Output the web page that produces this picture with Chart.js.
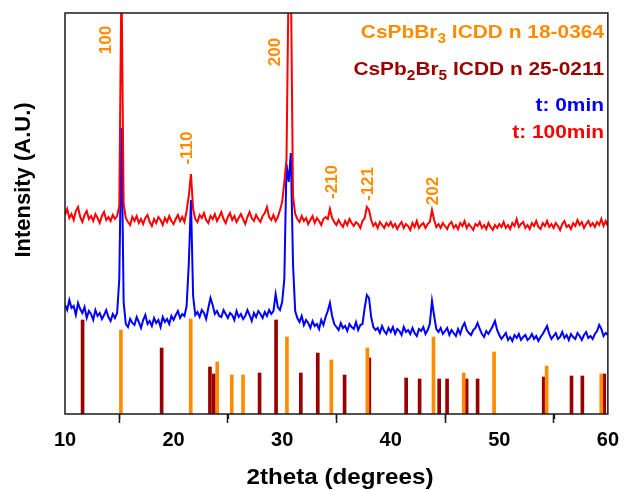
<!DOCTYPE html>
<html>
<head>
<meta charset="utf-8">
<script src="https://cdn.jsdelivr.net/npm/chart.js@4.4.1/dist/chart.umd.min.js"></script>
<style>
  html, body { margin: 0; padding: 0; background: #fff; }
</style>
</head>
<body>
<canvas id="xrd" width="624" height="490"></canvas>
<script>
// 2theta grid of the scans (degrees)
const gridStart = 10;
const gridStep = 0.2;

// t: 0min scan (blue)
const blue0min = [
  109,104,114,106,108,99,111,105,101,107,96,103,100,94,104,98,101,95,99,104,97,93,100,96,101,
  135,286,112,90,87,95,91,89,97,92,86,94,99,90,93,88,96,91,94,87,97,92,95,90,98,
  94,99,103,96,100,98,108,150,214,118,99,102,97,104,101,95,106,116,109,100,103,98,97,104,100,
  96,101,99,94,103,97,100,95,98,104,99,93,101,97,103,100,96,102,98,104,100,103,120,107,104,
  112,135,250,232,261,150,103,96,92,98,89,94,91,86,93,88,90,85,94,89,97,103,111,98,90,
  87,84,91,86,88,83,90,87,85,92,84,89,90,106,119,116,97,87,84,86,81,88,83,80,86,
  82,87,80,85,83,79,87,82,84,80,86,81,78,85,83,87,80,84,90,113,98,85,82,86,80,
  83,86,79,84,81,78,85,80,87,91,84,81,79,84,86,91,85,80,77,83,80,84,88,93,84,
  79,75,78,81,74,77,73,79,76,80,74,77,79,74,76,80,75,78,73,77,80,84,88,80,75,
  78,81,75,77,82,76,79,74,80,77,75,81,78,74,79,82,76,78,75,80,83,89,85,78,81,
  79
];

// t: 100min scan (red)
const red100min = [
  199,205,196,200,194,203,207,197,192,199,203,195,198,193,200,196,191,198,202,194,197,193,199,195,198,
  208,440,210,196,192,189,197,193,198,191,195,190,196,199,192,188,195,191,197,194,189,196,192,198,193,
  190,195,199,193,197,192,203,218,240,205,195,192,199,196,201,194,191,198,195,200,193,197,202,195,191,
  197,201,194,198,192,196,200,195,190,197,202,196,193,199,195,192,198,201,207,197,194,199,193,197,204,
  212,232,254,440,440,218,200,195,192,198,193,196,190,194,198,191,196,193,189,195,197,195,205,196,192,
  189,194,190,187,193,189,195,191,188,192,190,186,193,196,207,204,194,188,191,186,192,189,186,191,188,
  192,187,190,185,189,192,186,190,188,184,191,187,193,186,189,191,186,190,192,204,194,187,190,186,191,
  188,185,190,192,186,189,185,191,188,193,186,190,187,184,190,188,192,186,189,185,191,187,184,189,186,
  190,187,192,186,189,185,191,188,195,187,190,192,186,189,185,191,188,193,187,185,191,188,193,187,190,
  186,191,188,184,190,193,187,189,185,191,188,194,189,192,186,190,193,188,191,187,192,189,195,188,193,
  188
];

// reference patterns (stick positions and heights)
const pbbr3Pos = [15.15, 21.58, 24.02, 25.36, 26.4, 30.44, 34.53, 37.85, 43.94, 46.72, 49.52, 54.36, 59.39];
const pbbr3Int = [84, 95, 52, 39, 39, 77, 54, 66, 77, 41, 62, 48, 40];
const pb2br5Pos = [11.62, 18.9, 23.35, 23.71, 27.92, 29.44, 31.72, 33.28, 35.75, 38.03, 41.42, 42.66, 44.46, 45.19, 46.99, 48.0, 54.09, 56.65, 57.65, 59.67];
const pb2br5Int = [94, 66, 47, 40, 41, 94, 41, 61, 39, 56, 36, 35, 35, 35, 35, 35, 37, 38, 38, 40];

// Miller index labels
const millerText = ['100', '-110', '200', '-210', '-121', '202'];
const millerX = [13.8, 21.27, 29.35, 34.59, 37.97, 43.9];
const millerY = [374, 266, 362, 232, 230, 223];

const xTicks = [10, 20, 30, 40, 50, 60];

const twoTheta = blue0min.map((_, i) => +(gridStart + i * gridStep).toFixed(1));

const ORANGE = '#ff8c00';
const DARKRED = '#9b0000';
const FONT = '"Liberation Sans", Arial, sans-serif';

// draws a text made of parts, some of them subscript, right aligned
function drawRich(ctx, parts, xRight, y, color, size) {
  ctx.save();
  ctx.fillStyle = color;
  ctx.textBaseline = 'alphabetic';
  ctx.textAlign = 'left';
  const subSize = Math.round(size * 0.72);
  let w = 0;
  parts.forEach(p => {
    ctx.font = 'bold ' + (p.sub ? subSize : size) + 'px ' + FONT;
    w += ctx.measureText(p.t).width;
  });
  const sx = 1.1;
  ctx.translate(xRight - w * sx, y);
  ctx.scale(sx, 1);
  let x = 0;
  parts.forEach(p => {
    ctx.font = 'bold ' + (p.sub ? subSize : size) + 'px ' + FONT;
    ctx.fillText(p.t, x, p.sub ? size * 0.28 : 0);
    x += ctx.measureText(p.t).width;
  });
  ctx.restore();
}

const textPlugin = {
  id: 'xrdText',
  afterDraw(chart) {
    const { ctx, chartArea: a, scales: { x, y } } = chart;
    ctx.save();

    // frame
    ctx.strokeStyle = '#1a1a1a';
    ctx.lineWidth = 1.5;
    ctx.strokeRect(a.left, a.top, a.right - a.left, a.bottom - a.top);

    // minor ticks
    ctx.lineWidth = 1.3;
    ctx.beginPath();
    for (let v = 15; v < 60; v += 10) {
      const px = Math.round(x.getPixelForValue(v)) + 0.5;
      ctx.moveTo(px, a.bottom);
      ctx.lineTo(px, a.bottom + 5);
    }
    ctx.stroke();

    // Miller indices
    ctx.fillStyle = ORANGE;
    ctx.font = 'bold 17px ' + FONT;
    ctx.textAlign = 'center';
    ctx.textBaseline = 'middle';
    millerText.forEach((t, i) => {
      ctx.save();
      ctx.translate(x.getPixelForValue(millerX[i]), y.getPixelForValue(millerY[i]));
      ctx.rotate(-Math.PI / 2);
      ctx.fillText(t, 0, 0);
      ctx.restore();
    });

    // axis titles
    ctx.fillStyle = '#000';
    ctx.save();
    ctx.translate(340, 478);
    ctx.scale(1.1, 1);
    ctx.font = 'bold 22px ' + FONT;
    ctx.fillText('2theta (degrees)', 0, 0);
    ctx.restore();
    ctx.save();
    ctx.translate(24, 180);
    ctx.rotate(-Math.PI / 2);
    ctx.font = 'bold 22px ' + FONT;
    ctx.fillText('Intensity (A.U.)', 0, 0);
    ctx.restore();

    ctx.restore();

    // legend texts
    drawRich(ctx, [{ t: 'CsPbBr' }, { t: '3', sub: true }, { t: ' ICDD n 18-0364' }], 604, 38, ORANGE, 19);
    drawRich(ctx, [{ t: 'CsPb' }, { t: '2', sub: true }, { t: 'Br' }, { t: '5', sub: true }, { t: ' ICDD n 25-0211' }], 604, 75, DARKRED, 19);
    drawRich(ctx, [{ t: 't: 0min' }], 604, 111, '#0000ff', 19);
    drawRich(ctx, [{ t: 't: 100min' }], 604, 138, '#ff0000', 19);
  }
};

new Chart(document.getElementById('xrd'), {
  type: 'line',
  data: {
    datasets: [
      {
        label: 't: 100min',
        data: twoTheta.map((v, i) => ({ x: v, y: red100min[i] })),
        borderColor: '#ff0000',
        borderWidth: 2,
        pointRadius: 0,
        tension: 0
      },
      {
        label: 't: 0min',
        data: twoTheta.map((v, i) => ({ x: v, y: blue0min[i] })),
        borderColor: '#0000ff',
        borderWidth: 2,
        pointRadius: 0,
        tension: 0
      },
      {
        type: 'bar',
        label: 'CsPbBr3 ICDD n 18-0364',
        data: pbbr3Pos.map((v, i) => ({ x: v, y: pbbr3Int[i] })),
        backgroundColor: ORANGE,
        barThickness: 3,
        grouped: false
      },
      {
        type: 'bar',
        label: 'CsPb2Br5 ICDD n 25-0211',
        data: pb2br5Pos.map((v, i) => ({ x: v, y: pb2br5Int[i] })),
        backgroundColor: DARKRED,
        barThickness: 3,
        grouped: false
      }
    ]
  },
  options: {
    responsive: false,
    animation: false,
    layout: { padding: { left: 65, top: 13, right: 12, bottom: 0 } },
    plugins: {
      legend: { display: false },
      tooltip: { enabled: false }
    },
    scales: {
      x: {
        type: 'linear',
        min: 10,
        max: 60,
        offset: false,
        afterFit: s => { s.height = 76; },
        afterBuildTicks: s => { s.ticks = xTicks.map(v => ({ value: v })); },
        ticks: {
          color: '#000',
          font: { family: FONT, size: 20, weight: 'bold' },
          padding: 5,
          maxRotation: 0
        },
        grid: {
          drawOnChartArea: false,
          tickLength: 9,
          tickWidth: 1.5,
          tickColor: '#1a1a1a'
        },
        border: { display: false }
      },
      y: {
        display: false,
        min: 0,
        max: 401
      }
    }
  },
  plugins: [textPlugin]
});
</script>
</body>
</html>
